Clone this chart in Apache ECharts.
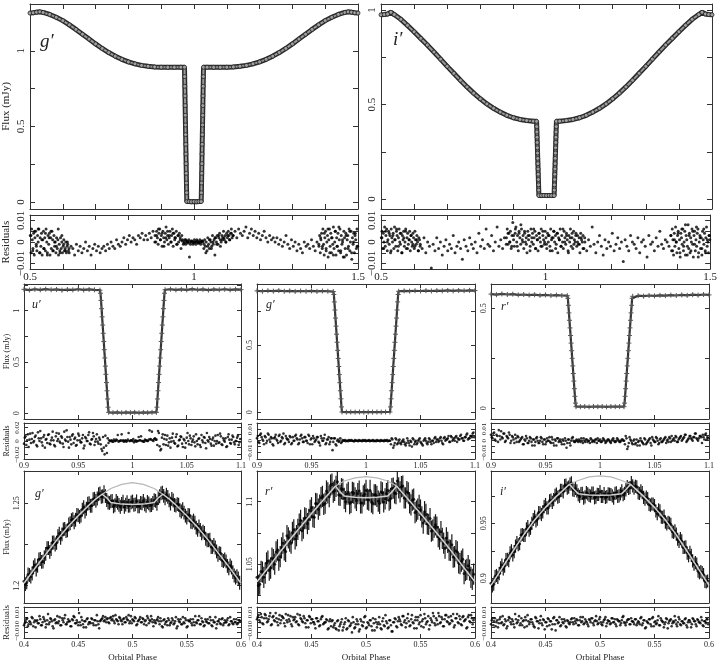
<!DOCTYPE html>
<html><head><meta charset="utf-8">
<script src="https://cdn.jsdelivr.net/npm/echarts@6/dist/echarts.min.js"></script>
<style>html,body{margin:0;padding:0;background:#fff}#c{width:720px;height:663px}</style>
</head><body><div id="c"></div>
<script>
// ---------------- DATA ----------------
// Top row: full orbit light curves, [phase, flux mJy]
const topGFlux = [[0.50,1.250],[0.51,1.252],[0.52,1.256],[0.53,1.258],[0.54,1.254],[0.56,1.241],[0.58,1.222],[0.60,1.200],[0.62,1.172],[0.64,1.142],[0.66,1.110],[0.68,1.078],[0.70,1.046],[0.72,1.016],[0.74,0.989],[0.76,0.965],[0.78,0.944],[0.80,0.927],[0.82,0.914],[0.84,0.904],[0.86,0.898],[0.88,0.894],[0.90,0.892],[0.92,0.891],[0.94,0.891],[0.96,0.892],
[0.9710,0.892],[0.9715,0.830],[0.9720,0.766],[0.9725,0.702],[0.9730,0.638],[0.9735,0.574],[0.9740,0.510],[0.9745,0.446],[0.9750,0.382],[0.9755,0.318],[0.9760,0.254],[0.9765,0.190],[0.9770,0.126],[0.9775,0.062],[0.9780,0.003],
[0.985,0.003],[0.992,0.002],[1.000,0.003],[1.008,0.002],[1.015,0.003],
[1.0220,0.003],[1.0225,0.062],[1.0230,0.126],[1.0235,0.190],[1.0240,0.254],[1.0245,0.318],[1.0250,0.382],[1.0255,0.446],[1.0260,0.510],[1.0265,0.574],[1.0270,0.638],[1.0275,0.702],[1.0280,0.766],[1.0285,0.830],[1.0290,0.892],
[1.04,0.892],[1.06,0.891],[1.08,0.891],[1.10,0.892],[1.12,0.894],[1.14,0.898],[1.16,0.904],[1.18,0.914],[1.20,0.927],[1.22,0.944],[1.24,0.965],[1.26,0.989],[1.28,1.016],[1.30,1.046],[1.32,1.078],[1.34,1.110],[1.36,1.142],[1.38,1.172],[1.40,1.200],[1.42,1.222],[1.44,1.241],[1.46,1.254],[1.47,1.258],[1.48,1.256],[1.49,1.252],[1.50,1.250]];

const topIFlux = [[0.50,0.975],[0.51,0.976],[0.52,0.979],[0.53,0.988],[0.54,0.976],[0.56,0.951],[0.58,0.919],[0.60,0.885],[0.62,0.850],[0.64,0.815],[0.66,0.778],[0.68,0.740],[0.70,0.702],[0.72,0.665],[0.74,0.628],[0.76,0.593],[0.78,0.560],[0.80,0.530],[0.82,0.503],[0.84,0.480],[0.86,0.460],[0.88,0.443],[0.90,0.430],[0.92,0.421],[0.94,0.415],[0.96,0.412],
[0.9700,0.411],[0.9705,0.383],[0.9710,0.355],[0.9715,0.327],[0.9720,0.299],[0.9725,0.271],[0.9730,0.243],[0.9735,0.215],[0.9740,0.187],[0.9745,0.159],[0.9750,0.131],[0.9755,0.103],[0.9760,0.075],[0.9765,0.047],[0.9770,0.018],
[0.985,0.018],[0.992,0.019],[1.000,0.018],[1.008,0.019],[1.015,0.018],
[1.0230,0.018],[1.0235,0.047],[1.0240,0.075],[1.0245,0.103],[1.0250,0.131],[1.0255,0.159],[1.0260,0.187],[1.0265,0.215],[1.0270,0.243],[1.0275,0.271],[1.0280,0.299],[1.0285,0.327],[1.0290,0.355],[1.0295,0.383],[1.0300,0.411],
[1.04,0.412],[1.06,0.415],[1.08,0.421],[1.10,0.430],[1.12,0.443],[1.14,0.460],[1.16,0.480],[1.18,0.503],[1.20,0.530],[1.22,0.560],[1.24,0.593],[1.26,0.628],[1.28,0.665],[1.30,0.702],[1.32,0.740],[1.34,0.778],[1.36,0.815],[1.38,0.850],[1.40,0.885],[1.42,0.919],[1.44,0.951],[1.46,0.976],[1.47,0.988],[1.48,0.979],[1.49,0.976],[1.50,0.975]];

// Residuals, units of 0.001 mJy, evenly sampled across the stated phase span
const topGRes = [3,-4,5,-2,6,-5,1,-3,4,-6,2,5,-4,0,-2,6,-5,3,
-1,-4,0,-5,-2,-3,-6,-1,-4,-2,-5,-3,0,-4,-2,-6,-3,-1,-4,-2,-5,-3,
-2,-4,-1,-3,0,-2,-3,1,-1,-2,0,2,-1,1,3,0,2,1,-1,3,2,4,1,
3,1,4,2,5,0,3,6,1,4,-2,2,5,3,0,4,2,-1,3,1,
0.5,-0.5,1,0,-7,0.5,-1,0,1,-0.5,0,0.5,-1,-5,
-2,1,-3,0,2,-1,3,-2,1,2,0,3,1,4,
3,5,2,6,4,3,5,7,2,4,6,3,5,2,4,1,3,5,2,0,3,1,2,
0,2,-1,1,-2,0,3,-1,-3,1,-2,0,-4,-1,-3,-5,0,-2,-1,-3,1,-2,-4,0,-1,2,-2,
4,-3,6,-5,2,-6,5,-2,7,-4,1,-7,3,-3,5,-5,0,4,-2];
const topGResA = [3,-5,6,1,-3,4,-6,2,5,-1,-4,3,0,6,-5,2,-2,4,-6,1,5,-3,2,-4,6,0,-5,3,-1,4,-6,2,-3,5,1,-4,3,-2,0,-5,2,-3,1,-6,-1,-4,2,-3,0,-5,-2,1,-4,-3,0,-5,-2,-1,-4,-3]; // 0.50-0.62
const topGResB = [3,0,5,2,-1,4,6,1,3,-2,5,2,0,4,7,1,3,-1,2,5,0,3,6,-2,4,1,2,5,-1,3,0,4,2,-3,3,1,-1,
0,1,-1,0,0.5,-0.5,1,0,-1,0,0.5,0,-0.5,1,0,-1,0,0.5,-0.5,0,1,-1,0,0.5,0,
-3,1,-2,0,-4,2,-1,-3,1,0,-2,3,-1,1,-6,2,0,3,-1,2,4,1,0,3,2,5,1,3,0,4,2,5,3,1,4,6,2,3]; // 0.88-1.12
const topGResC = [-2,3,-5,1,4,-3,6,-1,-6,2,5,-4,0,3,-7,1,6,-2,4,-5,2,-1,7,-3,0,5,-6,2,-2,4,-4,1,6,-5,3,-1,0,-7,5,2,-3,4,-6,1,3,-2,6,-4,0,5,-8,2,-1,4,-5,3,1,-3,6,-2]; // 1.38-1.50
const topIRes = [2,-3,5,0,4,-4,3,1,6,-2,4,-5,2,5,-3,1,3,-1,
-2,1,-4,-1,-3,2,-5,0,-2,-12,-1,-4,2,-3,0,-6,-2,1,-4,-1,-3,3,-5,-2,0,-3,-8,1,-2,-4,2,-1,-3,0,-5,4,-2,1,-3,6,-1,-2,3,-4,0,7,-2,1,-3,2,-1,4,0,-2,
3,6,-2,4,8,0,5,-1,3,-4,2,6,-3,1,4,-2,5,0,-1,3,-4,2,5,-3,4,1,-2,6,0,3,-5,2,4,-1,3,0,
-1,2,-3,0,-4,1,-2,7,-1,-5,0,3,-2,-6,1,-3,0,-2,4,-4,-1,2,-3,0,-9,1,-2,-4,3,0,-1,-3,2,-5,0,1,-2,-7,3,-1,0,-4,2,-2,5,-1,-3,1,0,-2,3,-4,1,0,
4,-5,6,-2,8,-6,3,-4,5,-1,7,-7,2,-3,6,-5,1,3];
const topIResA = [2,5,-3,4,0,7,-2,3,6,-4,1,5,-1,3,-5,6,2,0,4,-3,7,1,-2,5,3,-4,2,6,0,-1,4,-5,3,1,5,-2,0,6,-3,2,4,-1,1,5,-4,3,0,-2,4,2,-3,5,1,-1,3,0,-4,2,1,-2];
const topIResB = [2,6,-1,4,0,5,-3,3,9,1,-2,4,7,0,3,-4,5,2,-1,6,1,3,-3,4,0,2,-5,5,1,3,-2,6,0,4,-1,2,5,-3,3,1,-4,4,2,0,6,-2,3,1,-1,5,2,-3,4,0,3,-2,6,1,-4,2,5,0,3,-1,4,-5,2,1,6,-2,3,0,-3,5,2,-1,4,1,-4,3,0,6,-2,2,-3,5,1,0,4,-2,3,-1,2,-5,4,1,0,3,-3,2];
const topIResC = [3,-4,6,1,-6,4,-2,7,0,-5,3,5,-3,1,-7,4,2,-1,6,-4,0,5,-6,3,1,-2,8,-3,4,-5,2,0,6,-1,-7,3,5,-4,1,-2,4,6,-5,0,3,-3,2,-6,5,1,-1,4,-4,2,7,-2,0,-5,3,1];

// Middle row: eclipse close-ups, [phase, flux mJy]
const midUFlux = [[0.900,1.208],[0.905,1.201],[0.910,1.209],[0.915,1.203],[0.920,1.210],[0.925,1.204],[0.930,1.207],[0.935,1.200],[0.940,1.206],[0.945,1.203],[0.950,1.209],[0.955,1.202],[0.960,1.207],[0.965,1.203],[0.9700,1.200],
[0.9705,1.170],[0.9710,1.100],[0.9715,1.020],[0.9720,0.940],[0.9725,0.860],[0.9730,0.780],[0.9735,0.700],[0.9740,0.620],[0.9745,0.540],[0.9750,0.460],[0.9755,0.380],[0.9760,0.300],[0.9765,0.220],[0.9770,0.140],[0.9775,0.060],[0.9780,0.010],
[0.982,0.007],[0.986,0.010],[0.990,0.006],[0.994,0.009],[0.998,0.007],[1.002,0.010],[1.006,0.006],[1.010,0.009],[1.014,0.007],[1.018,0.010],
[1.0220,0.010],[1.0225,0.060],[1.0230,0.140],[1.0235,0.220],[1.0240,0.300],[1.0245,0.380],[1.0250,0.460],[1.0255,0.540],[1.0260,0.620],[1.0265,0.700],[1.0270,0.780],[1.0275,0.860],[1.0280,0.940],[1.0285,1.020],[1.0290,1.100],[1.0295,1.170],
[1.030,1.204],[1.035,1.209],[1.040,1.202],[1.045,1.207],[1.050,1.203],[1.055,1.210],[1.060,1.204],[1.065,1.208],[1.070,1.201],[1.075,1.207],[1.080,1.204],[1.085,1.209],[1.090,1.203],[1.095,1.208],[1.100,1.205]];
const midGFlux = [[0.900,0.902],[0.905,0.899],[0.910,0.903],[0.915,0.900],[0.920,0.904],[0.925,0.899],[0.930,0.902],[0.935,0.898],[0.940,0.901],[0.945,0.899],[0.950,0.902],[0.955,0.898],[0.960,0.901],[0.965,0.899],[0.9700,0.897],
[0.9705,0.875],[0.9710,0.820],[0.9715,0.760],[0.9720,0.700],[0.9725,0.640],[0.9730,0.580],[0.9735,0.520],[0.9740,0.460],[0.9745,0.400],[0.9750,0.340],[0.9755,0.280],[0.9760,0.220],[0.9765,0.160],[0.9770,0.100],[0.9775,0.040],[0.9780,0.002],
[0.982,0.001],[0.986,0.002],[0.990,0.001],[0.994,0.002],[0.998,0.001],[1.002,0.002],[1.006,0.001],[1.010,0.002],[1.014,0.001],[1.018,0.002],
[1.0220,0.002],[1.0225,0.040],[1.0230,0.100],[1.0235,0.160],[1.0240,0.220],[1.0245,0.280],[1.0250,0.340],[1.0255,0.400],[1.0260,0.460],[1.0265,0.520],[1.0270,0.580],[1.0275,0.640],[1.0280,0.700],[1.0285,0.760],[1.0290,0.820],[1.0295,0.875],
[1.030,0.899],[1.035,0.902],[1.040,0.900],[1.045,0.903],[1.050,0.901],[1.055,0.904],[1.060,0.901],[1.065,0.904],[1.070,0.902],[1.075,0.905],[1.080,0.902],[1.085,0.905],[1.090,0.903],[1.095,0.906],[1.100,0.904]];
const midRFlux = [[0.900,0.571],[0.905,0.568],[0.910,0.572],[0.915,0.569],[0.920,0.571],[0.925,0.567],[0.930,0.569],[0.935,0.566],[0.940,0.568],[0.945,0.565],[0.950,0.567],[0.955,0.564],[0.960,0.566],[0.965,0.564],[0.9700,0.563],
[0.9705,0.550],[0.9710,0.515],[0.9715,0.477],[0.9720,0.440],[0.9725,0.402],[0.9730,0.364],[0.9735,0.326],[0.9740,0.288],[0.9745,0.250],[0.9750,0.212],[0.9755,0.174],[0.9760,0.136],[0.9765,0.098],[0.9770,0.060],[0.9775,0.026],[0.9780,0.008],
[0.982,0.008],[0.986,0.009],[0.990,0.007],[0.994,0.009],[0.998,0.008],[1.002,0.009],[1.006,0.007],[1.010,0.009],[1.014,0.008],[1.018,0.009],
[1.0220,0.008],[1.0225,0.026],[1.0230,0.060],[1.0235,0.098],[1.0240,0.136],[1.0245,0.174],[1.0250,0.212],[1.0255,0.250],[1.0260,0.288],[1.0265,0.326],[1.0270,0.364],[1.0275,0.402],[1.0280,0.440],[1.0285,0.477],[1.0290,0.515],[1.0295,0.550],
[1.030,0.560],[1.035,0.563],[1.040,0.561],[1.045,0.564],[1.050,0.562],[1.055,0.565],[1.060,0.563],[1.065,0.566],[1.070,0.564],[1.075,0.567],[1.080,0.565],[1.085,0.568],[1.090,0.566],[1.095,0.569],[1.100,0.567]];

const midURes = [5,-6,10,2,-3,12,0,8,-8,4,15,-2,6,-10,3,9,-4,1,14,-6,7,0,11,-3,5,-9,2,16,-1,6,-5,10,3,-7,1,8,-2,4,-11,6,0,9,-4,2,12,-6,3,-1,5,
-5,-15,-10,8,-18,-3,
0,1,-1,0,2,9,0,1,0,-1,1,0,12,0,1,3,0,-1,0,1,7,0,-1,1,0,2,3,14,0,4,2,
15,-8,-12,10,
3,-6,8,-2,-10,5,0,-4,10,-7,2,6,-9,1,-3,12,-5,4,-1,7,-8,0,3,-6,9,-2,5,-11,1,6,-4,2,-7,8,0,-3,11,-5,4,-1,-9,6,2,-4,8,-2,0,5,-6,3];
const midUResB = [-4,7,1,-9,11,3,-2,6,-6,13,0,4,-7,9,2,-3,10,-5,5,1,-8,12,3,-1,7,-4,14,0,6,-10,2,8,-3,5,-6,11,1,-2,9,-7,4,0,13,-5,3,7,-1,10,-4,
2,-12,6,-20,-7,4,
1,0,-1,2,0,1,-1,0,10,1,0,-1,2,0,1,0,-2,1,0,6,1,0,-1,2,1,0,16,2,1,3,2,
-6,12,-14,5,
-5,9,2,-7,4,-1,11,-3,6,-8,1,7,-4,3,-10,5,0,8,-6,2,-2,10,-5,4,-9,1,6,-3,12,-1,3,-7,5,0,-4,9,-2,7,-6,1,4,-8,10,-3,2,6,-5,0,8,-2];
const midGRes = [4,-2,6,1,-3,3,0,5,-1,2,-4,3,1,-2,5,0,2,-3,4,1,-1,3,-2,0,4,2,-3,1,5,-1,3,0,-2,4,1,-3,2,0,3,-1,-4,2,0,5,-2,1,-3,2,-8,
2,-3,0,-1,2,-1,
0,0.5,0,-0.5,0,0.5,0,-0.5,0,0,0.5,0,-0.5,0,0.5,0,0,-0.5,0,0.5,0,-0.5,0,0,0.5,0,-0.5,0,0.5,0,0,
2,-6,-2,1,
-2,1,-3,0,-1,-4,2,-2,0,-5,1,-1,-3,0,2,-2,-4,1,0,-3,2,-1,0,-2,3,1,-1,2,0,-3,3,1,2,-1,4,0,2,3,-1,1,4,2,0,3,5,1,2,4,6,3];
const midGResB = [2,-1,5,3,0,4,-2,6,1,3,-3,2,5,0,4,-1,3,6,-2,2,1,4,-3,3,0,5,1,-2,4,2,-1,3,0,5,-3,2,4,-1,1,3,-2,4,0,2,-3,1,3,-1,2,
-1,2,-4,1,0,-2,
0.5,0,-0.5,0,0.5,0,0,-0.5,0.5,0,-0.5,0,0,0.5,0,-0.5,0,0.5,0,0,-0.5,0,0.5,0,-0.5,0,0,0.5,0,-0.5,0,
-3,1,-4,2,
-3,0,-2,-1,1,-3,-2,0,-4,-1,2,-3,0,-2,1,-1,-3,0,2,-2,-1,1,-3,0,2,-1,1,0,3,-2,2,0,1,4,-1,3,1,0,4,2,1,5,2,0,3,6,2,4,3,7];
const midRRes = [3,6,1,5,-1,4,8,2,6,0,3,7,-2,4,1,5,-1,3,0,2,-3,1,4,-2,0,2,-4,1,-1,3,-2,0,2,-3,1,-1,0,3,-2,1,-4,0,2,-1,1,-3,0,2,-6,
1,-2,0,3,-1,0,
0,1,-1,0,2,-1,1,0,-2,1,0,-1,1,2,0,-1,0,1,-2,0,1,-1,0,2,-1,0,1,-1,0,1,0,
4,-7,-2,1,
-2,0,-3,1,-1,-4,0,-2,2,-3,-1,1,-2,3,0,-1,2,-3,1,-1,0,2,-2,1,3,-1,0,2,4,-1,1,3,0,2,5,-1,1,4,2,0,3,6,1,2,4,-2,3,5,1,2];
const midRResB = [5,2,7,0,4,9,1,3,6,-1,4,2,5,0,3,-2,2,4,-1,1,3,-3,0,2,-2,3,-1,1,-4,2,0,-2,3,-1,1,-3,2,0,-1,3,-2,1,-4,2,0,-1,1,-3,0,
-2,1,-4,2,0,-1,
1,-1,0,2,-2,0,1,-1,0,2,-1,0,1,-2,0,1,-1,2,0,-1,1,0,-2,1,0,-1,2,0,-1,1,0,
-3,2,-5,3,
0,-3,1,-2,-4,0,2,-1,-3,1,-2,0,2,-4,1,-1,3,0,-2,2,-1,1,3,0,-1,2,4,1,0,3,-1,2,4,1,3,5,0,2,4,1,3,6,2,0,4,3,5,1,6,3];

// Bottom row: secondary eclipse; two interleaved runs evenly sampled over phase 0.4-0.6
const botGFlux = [1.2010,1.2068,1.2055,1.2112,1.2098,1.2160,1.2145,1.2172,1.2228,1.2205,1.2262,1.2250,1.2300,1.2290,1.2342,1.2331,1.2372,1.2398,1.2385,1.2430,1.2418,1.2462,1.2450,1.2497,1.2485,1.2525,1.2515,1.2555,1.2540,1.2568,1.2520,1.2502,1.2515,1.2488,1.2503,1.2479,1.2510,1.2492,1.2485,1.2506,1.2490,1.2512,1.2482,1.2500,1.2493,1.2508,1.2487,1.2502,1.2515,1.2531,1.2560,1.2545,1.2552,1.2518,1.2526,1.2490,1.2495,1.2458,1.2464,1.2425,1.2430,1.2388,1.2395,1.2352,1.2360,1.2318,1.2320,1.2276,1.2280,1.2235,1.2232,1.2188,1.2195,1.2150,1.2148,1.2105,1.2110,1.2062,1.2058,1.2018];
const botGFluxB = [1.2027,1.2020,1.2065,1.2074,1.2125,1.2121,1.2162,1.2147,1.2193,1.2228,1.2222,1.2262,1.2260,1.2316,1.2311,1.2345,1.2336,1.2379,1.2403,1.2400,1.2427,1.2425,1.2476,1.2467,1.2501,1.2485,1.2528,1.2529,1.2560,1.2543,1.2544,1.2505,1.2512,1.2481,1.2514,1.2490,1.2496,1.2478,1.2507,1.2486,1.2511,1.2493,1.2482,1.2503,1.2515,1.2484,1.2500,1.2489,1.2519,1.2497,1.2543,1.2565,1.2530,1.2539,1.2498,1.2517,1.2486,1.2491,1.2450,1.2443,1.2413,1.2427,1.2384,1.2382,1.2339,1.2339,1.2328,1.2285,1.2276,1.2235,1.2248,1.2208,1.2198,1.2155,1.2159,1.2120,1.2123,1.2082,1.2049,1.2044];
const botRFlux = [1.0330,1.0442,1.0395,1.0510,1.0452,1.0548,1.0500,1.0615,1.0560,1.0668,1.0602,1.0710,1.0668,1.0775,1.0728,1.0820,1.0768,1.0870,1.0825,1.0930,1.0880,1.0985,1.0940,1.1032,1.0978,1.1085,1.1040,1.1140,1.1090,1.1160,1.1050,1.1098,1.1000,1.1075,1.0995,1.1068,1.1010,1.1085,1.0990,1.1060,1.1020,1.1090,1.0985,1.1055,1.1005,1.1078,1.0998,1.1065,1.1012,1.1105,1.1070,1.1165,1.1078,1.1125,1.1030,1.1070,1.0975,1.1020,1.0925,1.0970,1.0878,1.0920,1.0822,1.0865,1.0772,1.0815,1.0720,1.0760,1.0668,1.0710,1.0612,1.0655,1.0560,1.0598,1.0505,1.0540,1.0450,1.0488,1.0395,1.0420];
const botRFluxB = [1.0395,1.0340,1.0437,1.0428,1.0525,1.0469,1.0536,1.0598,1.0533,1.0631,1.0615,1.0728,1.0685,1.0754,1.0703,1.0779,1.0850,1.0788,1.0865,1.0859,1.0951,1.0875,1.0983,1.0972,1.1043,1.0988,1.1070,1.1132,1.1077,1.1123,1.1055,1.1103,1.1027,1.1060,1.0985,1.1075,1.1030,1.1065,1.0990,1.1047,1.1090,1.1013,1.0997,1.1055,1.1043,1.0987,1.1071,1.1023,1.1089,1.1025,1.1108,1.1065,1.1111,1.1120,1.1030,1.1080,1.0990,1.1012,1.0913,1.0940,1.0933,1.0829,1.0898,1.0818,1.0765,1.0796,1.0796,1.0701,1.0707,1.0628,1.0675,1.0611,1.0557,1.0608,1.0510,1.0524,1.0425,1.0458,1.0453,1.0378];
const botIFlux = [0.8930,0.9015,0.9008,0.9095,0.9085,0.9170,0.9160,0.9250,0.9242,0.9325,0.9315,0.9398,0.9390,0.9470,0.9455,0.9535,0.9522,0.9598,0.9580,0.9652,0.9640,0.9705,0.9690,0.9755,0.9738,0.9800,0.9785,0.9848,0.9830,0.9868,0.9800,0.9795,0.9745,0.9772,0.9740,0.9768,0.9748,0.9775,0.9738,0.9762,0.9745,0.9770,0.9742,0.9765,0.9750,0.9773,0.9745,0.9768,0.9760,0.9805,0.9818,0.9870,0.9820,0.9832,0.9772,0.9780,0.9720,0.9725,0.9665,0.9675,0.9612,0.9622,0.9555,0.9565,0.9495,0.9502,0.9425,0.9432,0.9355,0.9360,0.9280,0.9285,0.9205,0.9208,0.9128,0.9130,0.9050,0.9052,0.8972,0.8975];
const botIFluxB = [0.8955,0.8946,0.9025,0.9043,0.9120,0.9111,0.9173,0.9231,0.9213,0.9293,0.9305,0.9393,0.9390,0.9449,0.9437,0.9499,0.9558,0.9537,0.9596,0.9604,0.9671,0.9640,0.9711,0.9716,0.9767,0.9744,0.9800,0.9844,0.9821,0.9857,0.9805,0.9817,0.9760,0.9771,0.9729,0.9779,0.9754,0.9774,0.9732,0.9764,0.9788,0.9744,0.9736,0.9768,0.9762,0.9730,0.9777,0.9750,0.9795,0.9773,0.9835,0.9824,0.9841,0.9837,0.9777,0.9796,0.9736,0.9738,0.9671,0.9676,0.9661,0.9588,0.9613,0.9554,0.9510,0.9509,0.9490,0.9418,0.9402,0.9335,0.9340,0.9282,0.9229,0.9235,0.9158,0.9143,0.9065,0.9060,0.9034,0.8968];
const botGErr = 0.0042, botRErr = 0.0085, botIErr = 0.006;

const botGModel = [[0.40,1.2015],[0.41,1.2105],[0.42,1.219],[0.43,1.2275],[0.44,1.2355],[0.45,1.2425],[0.46,1.249],[0.466,1.2525],[0.472,1.2555],[0.476,1.2535],[0.48,1.2505],[0.49,1.2495],[0.50,1.2493],[0.51,1.2495],[0.52,1.2505],[0.524,1.2535],[0.528,1.2555],[0.534,1.2525],[0.54,1.249],[0.55,1.2425],[0.56,1.2355],[0.57,1.2275],[0.58,1.219],[0.59,1.2105],[0.60,1.2015]];
const botGArc = [[0.472,1.2555],[0.48,1.259],[0.49,1.2615],[0.50,1.2625],[0.51,1.2615],[0.52,1.259],[0.528,1.2555]];
const botRModel = [[0.40,1.036],[0.41,1.047],[0.42,1.0585],[0.43,1.0695],[0.44,1.080],[0.45,1.0905],[0.46,1.1005],[0.466,1.1065],[0.472,1.1125],[0.476,1.108],[0.48,1.1045],[0.49,1.1035],[0.50,1.1032],[0.51,1.1035],[0.52,1.1045],[0.524,1.108],[0.528,1.1125],[0.534,1.1065],[0.54,1.1005],[0.55,1.0905],[0.56,1.080],[0.57,1.0695],[0.58,1.0585],[0.59,1.047],[0.60,1.036]];
const botRArc = [[0.472,1.1125],[0.48,1.1165],[0.49,1.119],[0.50,1.120],[0.51,1.119],[0.52,1.1165],[0.528,1.1125]];
const botIModel = [[0.40,0.8935],[0.41,0.909],[0.42,0.9245],[0.43,0.9395],[0.44,0.953],[0.45,0.9645],[0.46,0.9745],[0.466,0.980],[0.472,0.9855],[0.476,0.981],[0.48,0.977],[0.49,0.9758],[0.50,0.9755],[0.51,0.9758],[0.52,0.977],[0.524,0.981],[0.528,0.9855],[0.534,0.980],[0.54,0.9745],[0.55,0.9645],[0.56,0.953],[0.57,0.9395],[0.58,0.9245],[0.59,0.909],[0.60,0.8935]];
const botIArc = [[0.472,0.9855],[0.48,0.989],[0.49,0.9922],[0.50,0.9932],[0.51,0.9922],[0.52,0.989],[0.528,0.9855]];

const botGRes = [-1,3,-4,1,-2,4,0,-5,2,-1,3,-3,5,1,-2,8,0,3,-4,2,-1,6,1,-3,4,0,7,-2,3,1,-4,2,5,-1,0,9,-3,2,-5,1,3,-2,0,4,-1,2,-3,1,-6,
2,4,1,5,3,0,4,2,6,-1,3,1,5,2,-2,4,0,3,7,1,-1,2,5,-3,1,3,0,4,-2,2,6,-1,1,3,-4,0,2,5,-2,1,-5,3,
0,-3,2,-1,4,-2,1,-6,3,0,-2,5,-1,2,-4,1,3,-3,0,6,-1,2,-2,4,0,-3,1,3,-1,2,-4,0,5,-2,1,-1,3,-3,2,0,4,-2,1,-1,3,0,-2,2,1];
const botGResB = [-3,1,4,-2,0,5,-4,2,1,-1,6,-3,0,3,-5,2,-2,4,1,-6,3,0,-1,5,-3,2,4,-2,0,1,-4,3,6,-1,2,-3,0,5,-2,1,-5,4,0,-1,3,-3,2,7,-2,
1,3,6,2,0,4,-1,5,3,1,7,2,-2,4,1,3,0,5,2,-1,6,3,1,4,-2,2,5,0,3,1,-3,4,2,6,0,2,-1,3,1,4,-4,2,
-2,1,4,-3,0,2,-1,5,-4,1,3,-2,0,4,-5,2,1,-1,3,-3,0,2,6,-2,1,-4,3,0,-1,5,-3,2,0,-6,1,3,-2,4,-1,0,2,-3,5,1,-2,0,3,-1,2];
const botRRes = [5,2,8,-1,4,7,0,3,9,-2,6,1,4,-3,7,2,5,-1,8,0,3,6,-4,2,5,1,-2,7,3,0,4,-5,2,6,-1,3,0,-6,4,1,-3,5,-2,0,3,-7,1,-4,2,
-3,-6,1,-8,-2,3,-5,0,-7,2,-4,-1,5,-6,-2,1,-9,3,-3,0,6,-5,-1,2,-4,4,-8,0,-2,5,-6,1,-3,7,-1,-5,2,-9,0,4,-4,1,
3,-2,6,0,-5,4,1,-3,7,-1,2,-6,5,0,-4,3,8,-2,1,-7,4,0,6,-3,2,9,-1,5,-4,3,7,0,-2,6,1,-5,4,8,-1,3,-3,6,2,-6,5,1,7,-2,4];
const botRResB = [3,7,0,5,-2,8,4,1,6,-3,5,2,9,0,3,-1,6,4,-4,2,7,1,-2,5,3,0,8,-3,4,1,6,-1,2,-5,5,3,0,-2,4,1,-4,3,6,-1,0,2,-6,3,1,
-5,-1,-7,2,-4,0,-8,-2,4,-6,1,-3,-10,0,-5,3,-2,-7,1,-4,5,-6,0,-3,2,-8,-1,3,-5,0,-2,-7,4,-4,1,-6,2,-3,-9,0,3,-5,
5,1,-3,6,2,-1,8,-4,3,0,-6,5,2,-2,7,1,-5,4,0,6,-3,2,9,-1,4,-2,6,0,3,-4,7,1,5,-1,2,8,-3,4,0,6,-2,5,1,3,-5,7,0,4,2];
const botIRes = [2,-3,4,0,-5,3,-1,6,-2,1,-4,5,0,3,-2,8,-1,2,-3,4,1,-5,2,7,-2,3,0,-4,5,1,-6,2,-1,3,-7,0,4,-3,1,-2,5,-8,2,0,-4,3,-1,1,-5,
1,-2,3,0,4,-1,2,-3,5,1,-2,3,0,-4,2,4,-1,1,6,-2,3,0,-3,2,5,-1,1,-2,4,0,3,-4,2,1,-1,5,0,-3,2,3,-2,1,
0,3,-3,1,-2,5,-1,2,-5,0,3,-2,4,-4,1,-1,6,-3,2,0,-2,4,-6,1,3,-1,0,2,-4,5,-2,1,-1,3,-3,0,2,-5,4,1,-2,3,0,-1,2,-4,1,3,-2];
const botIResB = [-2,4,1,-4,2,-1,5,0,-3,3,-6,2,4,-2,1,-5,3,0,6,-1,-3,2,5,-4,1,0,3,-2,-5,4,1,-1,6,-3,2,0,-4,3,1,-7,4,-2,2,-1,5,-3,0,3,-4,
2,-1,0,4,-2,1,3,-3,2,0,5,-1,1,-2,3,0,4,-3,2,1,-1,5,-2,0,3,-4,2,1,-1,4,0,-2,3,1,-3,2,6,-1,0,3,-2,4,
1,-2,3,-1,0,4,-3,2,-6,1,-1,3,-4,5,0,-2,2,-3,4,1,-5,0,3,-1,2,-4,1,6,-2,0,3,-3,1,-1,4,-5,2,0,-2,3,1,-4,2,0,5,-3,1,-1,3];

// Tick values
const topXTicks = [0.5,0.6,0.7,0.8,0.9,1.0,1.1,1.2,1.3,1.4,1.5], topXLabels = [0.5,1,1.5];
const midXTicks = [0.9,0.95,1,1.05,1.1], botXTicks = [0.4,0.45,0.5,0.55,0.6];
const resTopTicks = [-0.01,-0.005,0,0.005,0.01], resTopLabels = [-0.01,0,0.01];
const resUTicks = [-0.02,-0.01,0,0.01,0.02], resULabels = [-0.02,0,0.02];
const res1Ticks = [-0.01,-0.005,0,0.005,0.01], res1Labels = [-0.01,0,0.01];

// ---------------- CHART ----------------
const F = '"Liberation Serif","DejaVu Serif",serif';
const INK = '#222', FRAME = '#333';
const opt = {animation:false, backgroundColor:'#fff', grid:[], xAxis:[], yAxis:[], series:[], graphic:[]};
function fmt(v){ return String(Math.round(v*10000)/10000).replace('-', '\u2212'); }

function axisCommon(p, isX){
  return {type:'value', min: isX?p.xMin:p.yMin, max: isX?p.xMax:p.yMax, scale:true,
    axisLine:{show:true, onZero:false, lineStyle:{color:FRAME, width:1}},
    splitLine:{show:false},
    axisTick:{show:true, inside:true, length:p.tl||5, customValues: isX?p.xTicks:p.yTicks, lineStyle:{color:FRAME, width:1}}};
}
function addPanel(p){
  const gi = opt.grid.length;
  opt.grid.push({left:p.left, top:p.top, width:p.width, height:p.height});
  const xi = opt.xAxis.length, yi = opt.yAxis.length;
  opt.xAxis.push(Object.assign(axisCommon(p,true), {gridIndex:gi, position:'bottom',
    axisLabel:{show:!!p.xLabels, customValues:p.xLabels||[], formatter:fmt, fontFamily:F, fontSize:p.fs, color:INK, margin:p.xm||3},
    name:p.xName||'', nameLocation:'middle', nameGap:p.xNameGap||0, nameTextStyle:{fontFamily:F, fontSize:p.nfs||p.fs, color:INK}}));
  opt.xAxis.push(Object.assign(axisCommon(p,true), {gridIndex:gi, position:'top', axisLabel:{show:false}}));
  opt.yAxis.push(Object.assign(axisCommon(p,false), {gridIndex:gi, position:'left',
    axisLabel:{show:!!p.yLabels, customValues:p.yLabels||[], formatter:fmt, rotate:90, fontFamily:F, fontSize:p.yfs||p.fs, color:INK, margin:p.ym||3},
    name:p.yName||'', nameLocation:'middle', nameGap:p.yNameGap||0, nameTextStyle:{fontFamily:F, fontSize:p.nfs||p.fs, color:INK}}));
  opt.yAxis.push(Object.assign(axisCommon(p,false), {gridIndex:gi, position:'right', axisLabel:{show:false}}));
  return {xAxisIndex:xi, yAxisIndex:yi};
}
function resSeries(ax, res, lo, hi, off, size){
  const n = res.length, o = (off===undefined)?0.5:off;
  opt.series.push(Object.assign({type:'scatter', symbol:'circle', symbolSize:size||2.8, itemStyle:{color:'#000'}, silent:true,
    data: res.map((v,i)=>[lo+(i+o)*(hi-lo)/n, v/1000])}, ax));
}
function topCurve(ax, data){
  opt.series.push(Object.assign({type:'line', data, showSymbol:false, lineStyle:{color:'#2a2a2a', width:5}, silent:true}, ax));
  opt.series.push(Object.assign({type:'line', data, symbol:'circle', symbolSize:4, showAllSymbol:true,
    itemStyle:{color:'#a0a0a0', borderColor:'#222', borderWidth:0.8}, lineStyle:{color:'#9a9a9a', width:2}, silent:true}, ax));
}
const PLUS = 'path://M0,5L10,5M5,0L5,10';
function midCurve(ax, data){
  opt.series.push(Object.assign({type:'line', data, symbol:PLUS, symbolSize:5, showAllSymbol:true,
    itemStyle:{color:'none', borderColor:'#555', borderWidth:1}, lineStyle:{color:'#333', width:2.2}, silent:true}, ax));
}
function botCurve(ax, fluxA, fluxB, err, model, arc){
  const lo = 0.4, hi = 0.6;
  const ptsA = fluxA.map((v,i)=>[lo+(i+0.5)*(hi-lo)/fluxA.length, v, err]);
  const ptsB = fluxB.map((v,i)=>[lo+i*(hi-lo)/fluxB.length, v, err]);
  const pts = ptsA.concat(ptsB);
  opt.series.push(Object.assign({type:'line', data:arc, showSymbol:false, lineStyle:{color:'#b8b8b8', width:1.2}, silent:true}, ax));
  opt.series.push(Object.assign({type:'custom', data:pts, clip:true, silent:true,
    renderItem(params, api){
      const x = api.value(0), y = api.value(1), e = api.value(2);
      const a = api.coord([x, y-e]), b = api.coord([x, y+e]);
      return {type:'line', shape:{x1:a[0], y1:a[1], x2:b[0], y2:b[1]}, style:{stroke:'#1a1a1a', lineWidth:1.2}};
    }}, ax));
  opt.series.push(Object.assign({type:'scatter', data:pts.map(p=>[p[0],p[1]]), symbolSize:3, itemStyle:{color:'#000'}, silent:true}, ax));
  opt.series.push(Object.assign({type:'line', data:model, showSymbol:false, lineStyle:{color:'#d0d0d0', width:1.5}, silent:true}, ax));
}
function label(txt, x, y, size){
  opt.graphic.push({type:'text', left:x, top:y, style:{text:txt, font:'italic '+size+'px '+F, fill:INK}});
}

// ---- Top row ----
let ax;
ax = addPanel({left:28, top:4, width:330, height:205, xMin:0.5, xMax:1.5, yMin:-0.046, yMax:1.31,
  xTicks:topXTicks, yTicks:[0,0.25,0.5,0.75,1,1.25], yLabels:[0,0.5,1], fs:11, yName:'Flux (mJy)', yNameGap:18, tl:5});
topCurve(ax, topGFlux);
ax = addPanel({left:28, top:215, width:330, height:54, xMin:0.5, xMax:1.5, yMin:-0.0125, yMax:0.0125,
  xTicks:topXTicks, xLabels:topXLabels, yTicks:resTopTicks, yLabels:resTopLabels, fs:11, yName:'Residuals', yNameGap:18, tl:5});
resSeries(ax, topGRes, 0.5, 1.5, 0.5, 3);
resSeries(ax, topGResA, 0.5, 0.62, 0.5, 3);
resSeries(ax, topGResB, 0.88, 1.12, 0.5, 3);
resSeries(ax, topGResC, 1.38, 1.5, 0.5, 3);
ax = addPanel({left:381, top:4, width:331, height:205, xMin:0.5, xMax:1.5, yMin:-0.053, yMax:1.032,
  xTicks:topXTicks, yTicks:[0,0.25,0.5,0.75,1], yLabels:[0,0.5,1], fs:11, tl:5});
topCurve(ax, topIFlux);
ax = addPanel({left:381, top:215, width:331, height:54, xMin:0.5, xMax:1.5, yMin:-0.0125, yMax:0.0125,
  xTicks:topXTicks, xLabels:topXLabels, yTicks:resTopTicks, yLabels:resTopLabels, fs:11, tl:5});
resSeries(ax, topIRes, 0.5, 1.5, 0.5, 3);
resSeries(ax, topIResA, 0.5, 0.62, 0.5, 3);
resSeries(ax, topIResB, 0.88, 1.12, 0.5, 3);
resSeries(ax, topIResC, 1.38, 1.5, 0.5, 3);
label('g\u2032', 40, 32, 19);
label('i\u2032', 393, 30, 19);

// ---- Middle row ----
const midCols = [24, 257, 491], colW = [217, 218, 218];
const midSpec = [
  {flux:midUFlux, res:midURes, resB:midUResB, yMin:-0.055, yMax:1.26, yTicks:[0,0.25,0.5,0.75,1,1.25], yLabels:[0,0.5,1], rMin:-0.027, rMax:0.027, rT:resUTicks, rL:resULabels},
  {flux:midGFlux, res:midGRes, resB:midGResB, yMin:-0.05, yMax:0.953, yTicks:[0,0.25,0.5,0.75], yLabels:[0,0.5], rMin:-0.0155, rMax:0.015, rT:res1Ticks, rL:res1Labels},
  {flux:midRFlux, res:midRRes, resB:midRResB, yMin:-0.0535, yMax:0.6215, yTicks:[0,0.25,0.5], yLabels:[0,0.5], rMin:-0.0155, rMax:0.015, rT:res1Ticks, rL:res1Labels}];
midSpec.forEach((s,k)=>{
  ax = addPanel({left:midCols[k], top:284, width:colW[k], height:135, xMin:0.9, xMax:1.1, yMin:s.yMin, yMax:s.yMax,
    xTicks:midXTicks, yTicks:s.yTicks, yLabels:s.yLabels, fs:8, tl:4, yName:k===0?'Flux (mJy)':'', yNameGap:13});
  midCurve(ax, s.flux);
  ax = addPanel({left:midCols[k], top:423, width:colW[k], height:36, xMin:0.9, xMax:1.1, yMin:s.rMin, yMax:s.rMax,
    xTicks:midXTicks, xLabels:midXTicks, yTicks:s.rT, yLabels:s.rL, fs:8, yfs:7, nfs:8, tl:4, yName:k===0?'Residuals':'', yNameGap:13});
  resSeries(ax, s.res, 0.9, 1.1, 0.5, 2.6);
  resSeries(ax, s.resB, 0.9, 1.1, 0, 2.6);
});
label('u\u2032', 32, 299, 12);
label('g\u2032', 266, 299, 12);
label('r\u2032', 501, 301, 12);

// ---- Bottom row ----
const botSpec = [
  {flux:botGFlux, fluxB:botGFluxB, err:botGErr, model:botGModel, arc:botGArc, res:botGRes, resB:botGResB, yMin:1.1895, yMax:1.2696, yTicks:[1.2,1.225,1.25], yLabels:[1.2,1.25]},
  {flux:botRFlux, fluxB:botRFluxB, err:botRErr, model:botRModel, arc:botRArc, res:botRRes, resB:botRResB, yMin:1.019, yMax:1.1245, yTicks:[1.025,1.05,1.075,1.1], yLabels:[1.05,1.1]},
  {flux:botIFlux, fluxB:botIFluxB, err:botIErr, model:botIModel, arc:botIArc, res:botIRes, resB:botIResB, yMin:0.8775, yMax:0.9976, yTicks:[0.9,0.925,0.95,0.975], yLabels:[0.9,0.95]}];
botSpec.forEach((s,k)=>{
  ax = addPanel({left:midCols[k], top:471, width:colW[k], height:132, xMin:0.4, xMax:0.6, yMin:s.yMin, yMax:s.yMax,
    xTicks:botXTicks, yTicks:s.yTicks, yLabels:s.yLabels, fs:8, tl:4, yName:k===0?'Flux (mJy)':'', yNameGap:13});
  botCurve(ax, s.flux, s.fluxB, s.err, s.model, s.arc);
  ax = addPanel({left:midCols[k], top:607, width:colW[k], height:35, xMin:0.4, xMax:0.6, yMin:-0.0155, yMax:0.015,
    xTicks:botXTicks, xLabels:botXTicks, yTicks:res1Ticks, yLabels:res1Labels, fs:8, yfs:7, tl:4, yName:k===0?'Residuals':'', yNameGap:13,
    xName:'Orbital Phase', xNameGap:15, nfs:9});
  resSeries(ax, s.res, 0.4, 0.6, 0.5, 2.6);
  resSeries(ax, s.resB, 0.4, 0.6, 0, 2.6);
});
label('g\u2032', 35, 488, 12);
label('r\u2032', 265, 486, 12);
label('i\u2032', 500, 486, 12);

const chart = echarts.init(document.getElementById('c'), null, {renderer:'canvas'});
chart.setOption(opt);
</script></body></html>
